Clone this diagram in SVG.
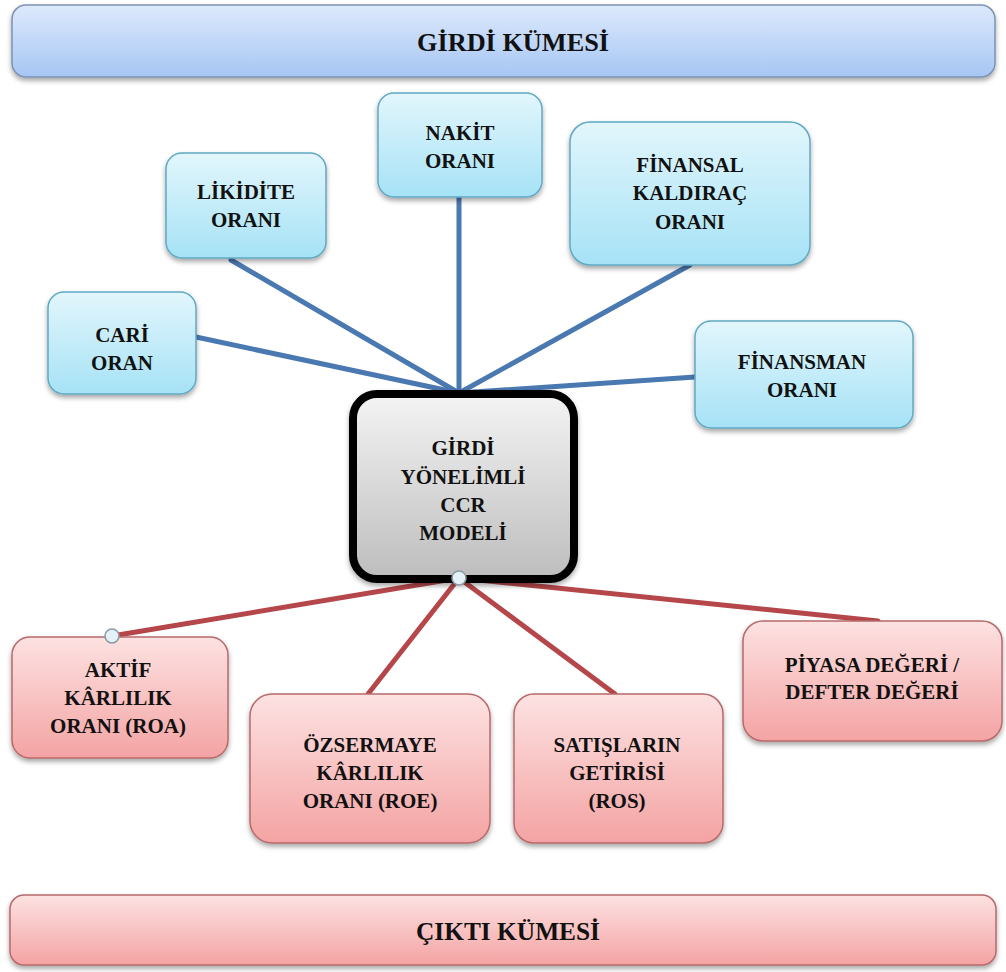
<svg xmlns="http://www.w3.org/2000/svg" width="1006" height="972" viewBox="0 0 1006 972">
<defs>
<linearGradient id="gBlue" x1="0" y1="0" x2="0" y2="1"><stop offset="0" stop-color="#e2f6fc"/><stop offset="1" stop-color="#a6e2f6"/></linearGradient>
<linearGradient id="gRed" x1="0" y1="0" x2="0" y2="1"><stop offset="0" stop-color="#fde2e2"/><stop offset="1" stop-color="#f4a3a3"/></linearGradient>
<linearGradient id="gTop" x1="0" y1="0" x2="0" y2="1"><stop offset="0" stop-color="#dde9fb"/><stop offset="1" stop-color="#a6c6f4"/></linearGradient>
<linearGradient id="gGray" x1="0" y1="0" x2="0" y2="1"><stop offset="0" stop-color="#f4f4f4"/><stop offset="1" stop-color="#bdbdbd"/></linearGradient>
<filter id="sh" x="-10%" y="-10%" width="120%" height="130%"><feDropShadow dx="0" dy="3" stdDeviation="2.5" flood-color="#000" flood-opacity="0.35"/></filter>
</defs>
<style>
text{font-family:'Liberation Serif','Times New Roman',serif;font-weight:bold;font-size:21px;fill:#111;text-anchor:middle}
.ban{font-size:25px}
.blue{fill:url(#gBlue);stroke:#5fa9c2;stroke-width:1.5;filter:url(#sh)}
.red{fill:url(#gRed);stroke:#b86a6a;stroke-width:1.5;filter:url(#sh)}
.cb{stroke:#4a78b0;stroke-width:5;fill:none;stroke-linecap:round}
.cr{stroke:#b5474b;stroke-width:5;fill:none;stroke-linecap:round}
.dot{fill:#e4f1f6;stroke:#8a9aa2;stroke-width:1.5}
</style>
<g id="connectors">
<line class="cb" x1="196" y1="337" x2="459" y2="393"/>
<line class="cb" x1="231" y1="260" x2="459" y2="393"/>
<line class="cb" x1="459" y1="197" x2="459" y2="393"/>
<line class="cb" x1="690" y1="265" x2="459" y2="393"/>
<line class="cb" x1="695" y1="377" x2="459" y2="393"/>
<line class="cr" x1="459" y1="578" x2="112" y2="636"/>
<line class="cr" x1="459" y1="578" x2="368" y2="694"/>
<line class="cr" x1="459" y1="578" x2="615" y2="694"/>
<line class="cr" x1="459" y1="578" x2="878" y2="621"/>
</g>
<g id="girdi-kumesi">
<rect x="12" y="5" width="983" height="72" rx="14" fill="url(#gTop)" stroke="#7d93b3" stroke-width="1.5" filter="url(#sh)"/>
<text class="ban" x="513" y="51" textLength="192" lengthAdjust="spacingAndGlyphs">GİRDİ KÜMESİ</text>
</g>
<g id="cari-oran">
<rect class="blue" x="48" y="292" width="148" height="102" rx="16"/>
<text x="122" y="342">CARİ</text><text x="122" y="370">ORAN</text>
</g>
<g id="likidite-orani">
<rect class="blue" x="166" y="153" width="160" height="105" rx="16"/>
<text x="246" y="199">LİKİDİTE</text><text x="246" y="227">ORANI</text>
</g>
<g id="nakit-orani">
<rect class="blue" x="378" y="93" width="164" height="104" rx="16"/>
<text x="460" y="140">NAKİT</text><text x="460" y="168">ORANI</text>
</g>
<g id="finansal-kaldirac-orani">
<rect class="blue" x="570" y="122" width="240" height="143" rx="20"/>
<text x="690" y="172">FİNANSAL</text><text x="690" y="200">KALDIRAÇ</text><text x="690" y="229">ORANI</text>
</g>
<g id="finansman-orani">
<rect class="blue" x="695" y="321" width="218" height="107" rx="16"/>
<text x="802" y="369">FİNANSMAN</text><text x="802" y="397">ORANI</text>
</g>
<g id="ccr-modeli">
<rect x="353" y="394" width="221" height="185" rx="24" fill="url(#gGray)" stroke="#000" stroke-width="8" filter="url(#sh)"/>
<text x="463" y="455">GİRDİ</text><text x="463" y="484">YÖNELİMLİ</text><text x="463" y="512">CCR</text><text x="463" y="540">MODELİ</text>
</g>
<g id="aktif-karlilik">
<rect class="red" x="12" y="637" width="216" height="121" rx="18"/>
<text x="118" y="677">AKTİF</text><text x="118" y="705">KÂRLILIK</text><text x="118" y="733">ORANI (ROA)</text>
</g>
<g id="ozsermaye-karlilik">
<rect class="red" x="250" y="694" width="240" height="149" rx="22"/>
<text x="370" y="752">ÖZSERMAYE</text><text x="370" y="780">KÂRLILIK</text><text x="370" y="808">ORANI (ROE)</text>
</g>
<g id="satislarin-getirisi">
<rect class="red" x="514" y="694" width="209" height="149" rx="20"/>
<text x="617" y="752">SATIŞLARIN</text><text x="617" y="780">GETİRİSİ</text><text x="617" y="808">(ROS)</text>
</g>
<g id="piyasa-defter">
<rect class="red" x="743" y="621" width="259" height="120" rx="20"/>
<text x="872" y="672">PİYASA DEĞERİ /</text><text x="872" y="699">DEFTER DEĞERİ</text>
</g>
<g id="cikti-kumesi">
<rect x="10" y="895" width="986" height="70" rx="14" fill="url(#gRed)" stroke="#b86a6a" stroke-width="1.5" filter="url(#sh)"/>
<text class="ban" x="508" y="940" textLength="184" lengthAdjust="spacingAndGlyphs">ÇIKTI KÜMESİ</text>
</g>
<g id="handles">
<circle class="dot" cx="459" cy="578" r="7"/>
<circle class="dot" cx="112" cy="636" r="7"/>
</g>
</svg>
